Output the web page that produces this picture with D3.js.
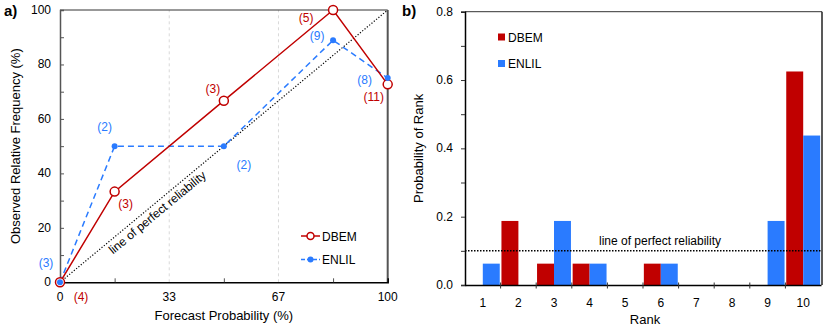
<!DOCTYPE html>
<html>
<head>
<meta charset="utf-8">
<script src="https://cdn.jsdelivr.net/npm/d3@7"></script>
<style>
  body { margin: 0; background: #fff; }
  svg text { font-family: "Liberation Sans", Arial, sans-serif; }
</style>
</head>
<body>
<svg id="chart" width="830" height="332"></svg>
<script>
// panel a: reliability diagram
let binCentres = [0, 16.67, 50, 83.33, 100];
let dbemFreq = [0, 33.3, 66.7, 100, 72.7];
let dbemCounts = ["(4)", "(3)", "(3)", "(5)", "(11)"];
let enlilFreq = [0, 50, 50, 88.9, 75];
let enlilCounts = ["(3)", "(2)", "(2)", "(9)", "(8)"];
let xTicksA = [0, 33.33, 66.67, 100];
let xTickLabelsA = ["0", "33", "67", "100"];

// panel b: rank histogram
let ranks = ["1", "2", "3", "4", "5", "6", "7", "8", "9", "10"];
let dbemRank = [0, 0.1875, 0.0625, 0.0625, 0, 0.0625, 0, 0, 0, 0.625];
let enlilRank = [0.0625, 0, 0.1875, 0.0625, 0, 0.0625, 0, 0, 0.1875, 0.4375];
let perfectRank = 0.1;

let red = "#c00000", blue = "#2a7bff";
let svg = d3.select("#chart");

// ---------- panel a ----------
let xa = d3.scaleLinear().domain([0, 100]).range([60, 387.7]);
let ya = d3.scaleLinear().domain([0, 100]).range([282.3, 10]);
let ga = svg.append("g");

// dashed vertical grid at 33 / 67
ga.selectAll(".grid").data([33.33, 66.67]).enter().append("line")
  .attr("x1", d => xa(d)).attr("x2", d => xa(d))
  .attr("y1", ya(0)).attr("y2", ya(100))
  .attr("stroke", "#d9d9d9").attr("stroke-dasharray", "3,3");

// frame: top + right
ga.append("line").attr("x1", xa(0)).attr("x2", xa(100)).attr("y1", ya(100)).attr("y2", ya(100))
  .attr("stroke", "#333").attr("stroke-width", 1);
ga.append("line").attr("x1", xa(100)).attr("x2", xa(100)).attr("y1", ya(0)).attr("y2", ya(100))
  .attr("stroke", "#555").attr("stroke-width", 2);

// axes, ticks pointing inward
let yAxisA = d3.axisRight(ya).tickValues(d3.range(0, 101, 10)).tickSize(4).tickFormat("");
ga.append("g").attr("transform", `translate(${xa(0)},0)`).call(yAxisA)
  .call(g => g.select(".domain").attr("stroke", "#555").attr("stroke-width", 1.5))
  .call(g => g.selectAll(".tick line").attr("stroke", "#555"));
ga.selectAll(".ylab").data(d3.range(0, 101, 20)).enter().append("text")
  .attr("x", xa(0) - 9).attr("y", d => ya(d) + 4)
  .attr("text-anchor", "end").attr("font-size", 12).text(d => d);

let xAxisA = d3.axisTop(xa).tickValues([16.67, 50, 83.33]).tickSize(4).tickFormat("");
ga.append("g").attr("transform", `translate(0,${ya(0)})`).call(xAxisA)
  .call(g => g.select(".domain").attr("stroke", "#000").attr("stroke-width", 1.5))
  .call(g => g.selectAll(".tick line").attr("stroke", "#555"));
ga.selectAll(".xlab").data(xTicksA).enter().append("text")
  .attr("x", d => xa(d)).attr("y", ya(0) + 19)
  .attr("text-anchor", "middle").attr("font-size", 12)
  .text((d, i) => xTickLabelsA[i]);

ga.append("text").attr("x", (xa(0) + xa(100)) / 2).attr("y", 320)
  .attr("text-anchor", "middle").attr("font-size", 13).text("Forecast Probability (%)");
ga.append("text").attr("transform", `translate(20,${(ya(0) + ya(100)) / 2}) rotate(-90)`)
  .attr("text-anchor", "middle").attr("font-size", 13).text("Observed Relative Frequency (%)");
ga.append("text").attr("x", 4).attr("y", 16).attr("font-size", 15).attr("font-weight", "bold").text("a)");

// line of perfect reliability
ga.append("line").attr("x1", xa(0)).attr("y1", ya(0)).attr("x2", xa(100)).attr("y2", ya(100))
  .attr("stroke", "#000").attr("stroke-width", 1.2).attr("stroke-dasharray", "1.2,1.8");
let ang = -Math.atan((ya(0) - ya(100)) / (xa(100) - xa(0))) * 180 / Math.PI;
ga.append("text").attr("transform", `translate(${xa(30.5)},${ya(24.5)}) rotate(${ang})`)
  .attr("text-anchor", "middle").attr("font-size", 12).text("line of perfect reliability");

let lineA = d3.line().x(d => xa(d[0])).y(d => ya(d[1]));
let enlilPts = binCentres.map((c, i) => [c, enlilFreq[i]]);
let dbemPts = binCentres.map((c, i) => [c, dbemFreq[i]]);

ga.append("path").attr("d", lineA(enlilPts)).attr("fill", "none")
  .attr("stroke", blue).attr("stroke-width", 1.5).attr("stroke-dasharray", "6,4");
ga.append("path").attr("d", lineA(dbemPts)).attr("fill", "none")
  .attr("stroke", red).attr("stroke-width", 1.5);
ga.selectAll(".dbem").data(dbemPts).enter().append("circle")
  .attr("cx", d => xa(d[0])).attr("cy", d => ya(d[1])).attr("r", 4.5)
  .attr("fill", "#fff").attr("stroke", red).attr("stroke-width", 1.5);
ga.selectAll(".enlil").data(enlilPts).enter().append("circle")
  .attr("cx", d => xa(d[0])).attr("cy", d => ya(d[1])).attr("r", 3)
  .attr("fill", blue);

// count labels (offsets from the point to the label centre)
let dbemOff = [[21, 15], [11, 12], [-11, -12], [-27, 8], [-14, 13]];
let enlilOff = [[-14, -19], [-10, -19], [20, 19], [-16, -4], [-23, 2]];
ga.selectAll(".dbemN").data(dbemCounts).enter().append("text")
  .attr("x", (d, i) => xa(binCentres[i]) + dbemOff[i][0])
  .attr("y", (d, i) => ya(dbemFreq[i]) + dbemOff[i][1] + 4)
  .attr("text-anchor", "middle").attr("font-size", 12).attr("fill", red).text(d => d);
ga.selectAll(".enlilN").data(enlilCounts).enter().append("text")
  .attr("x", (d, i) => xa(binCentres[i]) + enlilOff[i][0])
  .attr("y", (d, i) => ya(enlilFreq[i]) + enlilOff[i][1] + 4)
  .attr("text-anchor", "middle").attr("font-size", 12).attr("fill", blue).text(d => d);

// legend a
let legA = [{name: "DBEM", c: red, dash: null, y: 236}, {name: "ENLIL", c: blue, dash: "4,2", y: 259.5}];
legA.forEach(l => {
  ga.append("line").attr("x1", 301).attr("x2", 320).attr("y1", l.y).attr("y2", l.y)
    .attr("stroke", l.c).attr("stroke-width", 1.5).attr("stroke-dasharray", l.dash);
  if (l.name === "DBEM")
    ga.append("circle").attr("cx", 310.5).attr("cy", l.y).attr("r", 3.5)
      .attr("fill", "#fff").attr("stroke", l.c).attr("stroke-width", 1.5);
  else
    ga.append("circle").attr("cx", 310.5).attr("cy", l.y).attr("r", 3).attr("fill", l.c);
  ga.append("text").attr("x", 322).attr("y", l.y + 4.5).attr("font-size", 12).text(l.name);
});

// ---------- panel b ----------
let xb = d3.scaleBand().domain(ranks).range([465, 821]).paddingInner(0).paddingOuter(0);
let xs = d3.scaleBand().domain(["DBEM", "ENLIL"]).range([0, xb.bandwidth()]).paddingOuter(0.05);
let yb = d3.scaleLinear().domain([0, 0.8]).range([285, 11.7]);
let gb = svg.append("g");

// frame top + right
gb.append("line").attr("x1", 465).attr("x2", 822).attr("y1", yb(0.8)).attr("y2", yb(0.8))
  .attr("stroke", "#333").attr("stroke-width", 1);
gb.append("line").attr("x1", 822).attr("x2", 822).attr("y1", yb(0)).attr("y2", yb(0.8))
  .attr("stroke", "#222").attr("stroke-width", 1.5);

let bars = [];
ranks.forEach((r, i) => {
  bars.push({r: r, s: "DBEM", v: dbemRank[i], c: red});
  bars.push({r: r, s: "ENLIL", v: enlilRank[i], c: blue});
});
gb.selectAll(".bar").data(bars.filter(d => d.v > 0)).enter().append("rect")
  .attr("x", d => xb(d.r) + xs(d.s)).attr("width", xs.bandwidth())
  .attr("y", d => yb(d.v)).attr("height", d => yb(0) - yb(d.v))
  .attr("fill", d => d.c);

let yAxisB = d3.axisLeft(yb).tickValues(d3.range(0, 0.81, 0.1)).tickSize(4).tickFormat("");
gb.append("g").attr("transform", `translate(465,0)`).call(yAxisB)
  .call(g => g.select(".domain").attr("stroke", "#000").attr("stroke-width", 1.5))
  .call(g => g.selectAll(".tick line").attr("stroke", "#333"));
gb.selectAll(".ylabB").data([0, 0.2, 0.4, 0.6, 0.8]).enter().append("text")
  .attr("x", 453).attr("y", d => yb(d) + 4)
  .attr("text-anchor", "end").attr("font-size", 12).text(d => d.toFixed(1));

let xAxisB = d3.axisBottom(xb).tickSize(0).tickFormat("");
gb.append("g").attr("transform", `translate(0,${yb(0)})`).call(xAxisB)
  .call(g => g.select(".domain").attr("stroke", "#000").attr("stroke-width", 1.5));
gb.selectAll(".xtickB").data(ranks.slice(1)).enter().append("line")
  .attr("x1", d => xb(d)).attr("x2", d => xb(d))
  .attr("y1", yb(0) - 2.5).attr("y2", yb(0) + 3.5).attr("stroke", "#333");
gb.selectAll(".xlabB").data(ranks).enter().append("text")
  .attr("x", d => xb(d) + xb.bandwidth() / 2).attr("y", yb(0) + 22)
  .attr("text-anchor", "middle").attr("font-size", 12).text(d => d);

// perfect reliability line
gb.append("line").attr("x1", 465).attr("x2", 822).attr("y1", yb(perfectRank)).attr("y2", yb(perfectRank))
  .attr("stroke", "#000").attr("stroke-width", 1.5).attr("stroke-dasharray", "1.5,1.5");
gb.append("text").attr("x", 660).attr("y", yb(perfectRank) - 6)
  .attr("text-anchor", "middle").attr("font-size", 12).text("line of perfect reliability");

gb.append("text").attr("x", 645).attr("y", 324)
  .attr("text-anchor", "middle").attr("font-size", 13).text("Rank");
gb.append("text").attr("transform", `translate(423,${(yb(0) + yb(0.8)) / 2}) rotate(-90)`)
  .attr("text-anchor", "middle").attr("font-size", 13).text("Probability of Rank");
gb.append("text").attr("x", 402).attr("y", 16).attr("font-size", 15).attr("font-weight", "bold").text("b)");

// legend b
[{name: "DBEM", c: red, y: 37}, {name: "ENLIL", c: blue, y: 63.5}].forEach(l => {
  gb.append("rect").attr("x", 498).attr("y", l.y - 3.5).attr("width", 7).attr("height", 7).attr("fill", l.c);
  gb.append("text").attr("x", 508).attr("y", l.y + 4.5).attr("font-size", 12).text(l.name);
});
</script>
</body>
</html>
